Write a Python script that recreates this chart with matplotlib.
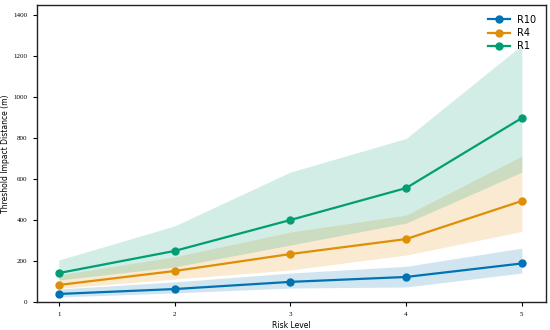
import matplotlib
matplotlib.use("Agg")
import matplotlib.pyplot as plt

risk = [1, 2, 3, 4, 5]

r10_mean = [39, 63, 98, 122, 188]
r10_low = [24, 44, 68, 73, 141]
r10_high = [63, 98, 141, 174, 263]

r4_mean = [83, 151, 234, 307, 493]
r4_low = [66, 112, 156, 229, 344]
r4_high = [132, 220, 341, 424, 712]

r1_mean = [141, 249, 400, 556, 898]
r1_low = [107, 171, 278, 385, 634]
r1_high = [205, 371, 634, 798, 1254]

series = [
    ("R10", r10_mean, r10_low, r10_high, "#0173b2"),
    ("R4", r4_mean, r4_low, r4_high, "#de8f05"),
    ("R1", r1_mean, r1_low, r1_high, "#029e73"),
]

fig = plt.figure(figsize=(5.5, 3.3), dpi=100)
ax = fig.add_axes([0.067, 0.085, 0.926, 0.9])

for name, mean, low, high, col in series:
    ax.fill_between(risk, low, high, color=col, alpha=0.18, linewidth=0)
    ax.plot(risk, mean, color=col, lw=1.6, marker="o", markersize=5, label=name)

ax.set_xlim(0.81, 5.21)
ax.set_ylim(0, 1450)
ax.set_xticks(risk)
ax.set_yticks(range(0, 1401, 200))
ax.tick_params(direction="out", length=3, width=0.8, labelsize=5, pad=4)
for lab in ax.get_xticklabels() + ax.get_yticklabels():
    lab.set_family("Liberation Serif")
for s in ax.spines.values():
    s.set_linewidth(1.0)
    s.set_color("#222222")

ax.set_xlabel("Risk Level", fontsize=5.5, labelpad=3)
ax.set_ylabel("Threshold Impact Distance (m)", fontsize=5.5, labelpad=2)
ax.legend(loc="upper right", frameon=False, fontsize=7, handlelength=2.2,
          labelspacing=0.35, borderaxespad=0.6)

fig.savefig("out.png", dpi=100)
